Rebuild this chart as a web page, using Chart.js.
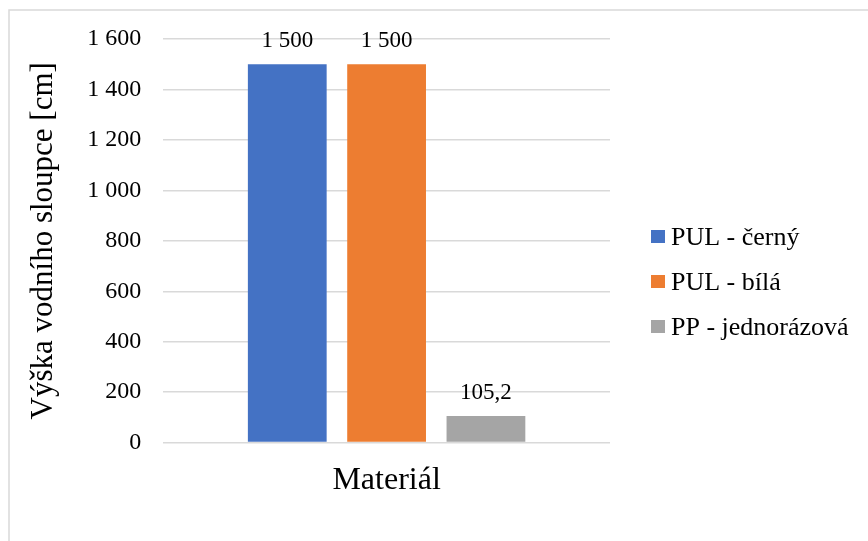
<!DOCTYPE html>
<html>
<head>
<meta charset="utf-8">
<script src="https://cdn.jsdelivr.net/npm/chart.js@4"></script>
<style>
  html, body { margin: 0; padding: 0; background: #fff; }
  #wrap { position: relative; width: 868px; height: 541px; }
</style>
</head>
<body>
<div id="wrap"><canvas id="waterChart" width="868" height="541"></canvas></div>
<script>
const categories = ["Materiál"];
const seriesNames = ["PUL - černý", "PUL - bílá", "PP - jednorázová"];
const seriesColors = ["#4472C4", "#ED7D31", "#A5A5A5"];
const seriesValues = [[1500], [1500], [105.2]];
const yTicks = [0, 200, 400, 600, 800, 1000, 1200, 1400, 1600];

const FONT = "'Liberation Serif', 'Times New Roman', serif";

// Czech number style: space as thousands separator, comma as decimal mark
function fmt(v) {
  const parts = String(v).split(".");
  parts[0] = parts[0].replace(/\B(?=(\d{3})+(?!\d))/g, " ");
  return parts.join(",");
}

// light frame around the whole chart
const framePlugin = {
  id: "frame",
  beforeDraw(chart) {
    const ctx = chart.ctx;
    ctx.save();
    ctx.strokeStyle = "#d9d9d9";
    ctx.lineWidth = 1.5;
    ctx.strokeRect(9, 10, chart.width + 20, chart.height + 20);
    ctx.restore();
  },
};

// value labels above each bar
const valueLabels = {
  id: "valueLabels",
  afterDatasetsDraw(chart) {
    const ctx = chart.ctx;
    ctx.save();
    ctx.font = "23px " + FONT;
    ctx.fillStyle = "#000";
    ctx.textAlign = "center";
    ctx.textBaseline = "alphabetic";
    chart.data.datasets.forEach((ds, i) => {
      chart.getDatasetMeta(i).data.forEach((bar, j) => {
        ctx.fillText(fmt(ds.data[j]), bar.x, bar.y - 17);
      });
    });
    ctx.restore();
  },
};

// legend on the right, square swatch + label
const sideLegend = {
  id: "sideLegend",
  afterDraw(chart) {
    const ctx = chart.ctx;
    const x = 651;
    const y0 = 237;
    const step = 45;
    ctx.save();
    ctx.font = "26px " + FONT;
    ctx.textBaseline = "middle";
    ctx.textAlign = "left";
    chart.data.datasets.forEach((ds, i) => {
      const y = y0 + i * step;
      ctx.fillStyle = ds.backgroundColor;
      ctx.fillRect(x, y - 7, 14, 13);
      ctx.fillStyle = "#000";
      ctx.fillText(ds.label, x + 20, y + 1);
    });
    ctx.restore();
  },
};

const ctx = document.getElementById("waterChart").getContext("2d");

new Chart(ctx, {
  type: "bar",
  data: {
    labels: categories,
    datasets: seriesNames.map((name, i) => ({
      label: name,
      data: seriesValues[i],
      backgroundColor: seriesColors[i],
      borderWidth: 0,
      categoryPercentage: 0.667,
      barPercentage: 0.793,
    })),
  },
  options: {
    responsive: false,
    animation: false,
    layout: {
      padding: { top: 39, right: 258, bottom: 22, left: 0 },
    },
    plugins: {
      legend: { display: false },
      tooltip: { enabled: false },
    },
    scales: {
      x: {
        grid: { display: false, drawTicks: false },
        border: { display: false },
        ticks: {
          color: "#000",
          padding: 19,
          font: { family: FONT, size: 32 },
        },
      },
      y: {
        min: 0,
        max: 1600,
        afterBuildTicks(scale) {
          scale.ticks = yTicks.map((v) => ({ value: v }));
        },
        grid: { color: "#d9d9d9", lineWidth: 1.5, drawTicks: false },
        border: { display: false },
        ticks: {
          color: "#000",
          padding: 22,
          font: { family: FONT, size: 24 },
          callback: (v) => fmt(v),
        },
        title: {
          display: true,
          text: "Výška vodního sloupce [cm]",
          color: "#000",
          font: { family: FONT, size: 31 },
          padding: { top: 25, bottom: 3 },
        },
      },
    },
  },
  plugins: [framePlugin, valueLabels, sideLegend],
});
</script>
</body>
</html>
